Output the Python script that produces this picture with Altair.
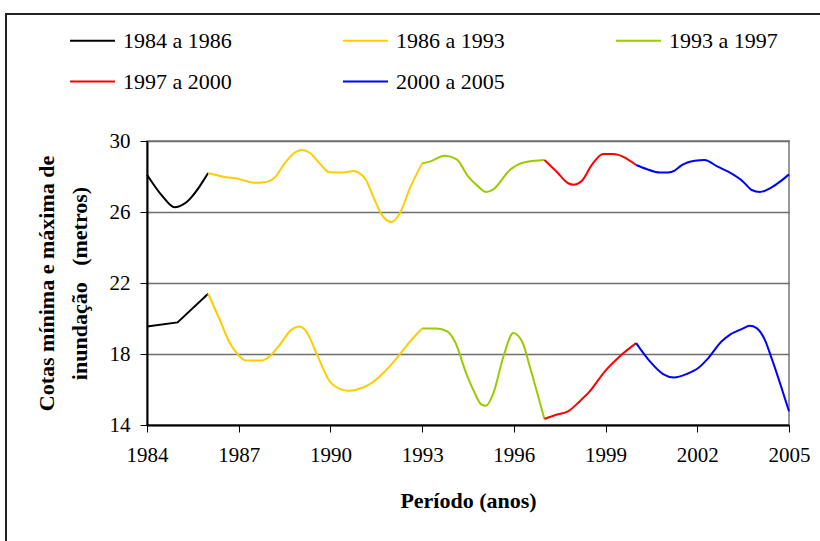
import altair as alt
import pandas as pd

FONT = "Liberation Serif"

series_names = ["1984 a 1986", "1986 a 1993", "1993 a 1997", "1997 a 2000", "2000 a 2005"]
series_colors = ["#000000", "#FFCC00", "#99CC00", "#FF0000", "#0000FF"]

# Maximum (upper) curves
max_years_1 = [1984.0, 1984.5, 1984.9, 1985.25, 1986.0]
max_vals_1 = [28.1, 26.9, 26.27, 26.5, 28.2]
max_years_2 = [1986.0, 1986.5, 1987.0, 1987.5, 1987.85, 1988.18, 1988.5, 1988.78, 1989.08, 1989.32,
               1989.65, 1989.96, 1990.42, 1990.75, 1991.02, 1991.13, 1991.4, 1991.68, 1992.0, 1992.27,
               1992.6, 1993.0]
max_vals_2 = [28.2, 27.99, 27.86, 27.65, 27.68, 27.94, 28.74, 29.27, 29.49, 29.34,
              28.74, 28.24, 28.22, 28.31, 28.09, 27.9, 26.87, 25.84, 25.44, 25.93,
              27.34, 28.74]
max_years_3 = [1993.0, 1993.25, 1993.74, 1994.13, 1994.51, 1994.84, 1995.09, 1995.33, 1995.87, 1996.3, 1997.0]
max_vals_3 = [28.74, 28.84, 29.17, 28.97, 27.99, 27.43, 27.13, 27.28, 28.37, 28.78, 28.93]
max_years_4 = [1997.0, 1997.4, 1997.78, 1997.95, 1998.22, 1998.55, 1998.92, 1999.23, 2000.0]
max_vals_4 = [28.93, 28.27, 27.62, 27.54, 27.75, 28.65, 29.27, 29.27, 28.65]
max_years_5 = [2000.0, 2000.34, 2000.78, 2001.05, 2001.26, 2001.48, 2001.92, 2002.24, 2002.63, 2003.01,
               2003.5, 2003.78, 2004.05, 2004.43, 2005.0]
max_vals_5 = [28.65, 28.42, 28.22, 28.22, 28.33, 28.63, 28.89, 28.93, 28.59, 28.27,
              27.71, 27.24, 27.13, 27.39, 28.12]

# Minimum (lower) curves
min_years_1 = [1984.0, 1985.0, 1986.0]
min_vals_1 = [19.55, 19.78, 21.4]
min_years_2 = [1986.0, 1986.38, 1986.71, 1986.98, 1987.23, 1987.78, 1988.01, 1988.34, 1988.72, 1988.97,
               1989.21, 1989.54, 1989.98, 1990.3, 1990.58, 1990.85, 1991.29, 1991.73, 1992.17, 1992.6, 1993.0]
min_vals_2 = [21.4, 19.93, 18.62, 17.96, 17.64, 17.64, 17.86, 18.52, 19.36, 19.55,
              19.27, 18.05, 16.45, 16.04, 15.93, 15.99, 16.3, 16.93, 17.77, 18.7, 19.44]
min_years_3 = [1993.0, 1993.47, 1993.82, 1994.07, 1994.46, 1994.67, 1994.95, 1995.09, 1995.33, 1995.66,
               1995.98, 1996.29, 1996.52, 1997.0]
min_vals_3 = [19.44, 19.44, 19.27, 18.7, 16.83, 15.99, 15.14, 15.09, 15.8, 17.86,
              19.18, 18.62, 17.3, 14.34]
min_years_4 = [1997.0, 1997.39, 1997.77, 1998.15, 1998.48, 1998.97, 1999.46, 2000.0]
min_vals_4 = [14.34, 14.58, 14.77, 15.33, 15.89, 17.01, 17.86, 18.61]
min_years_5 = [2000.0, 2000.45, 2000.88, 2001.24, 2001.65, 2002.03, 2002.36, 2002.79, 2003.06, 2003.45,
               2003.72, 2003.94, 2004.21, 2004.43, 2005.0]
min_vals_5 = [18.61, 17.58, 16.87, 16.68, 16.87, 17.21, 17.77, 18.7, 19.08, 19.4,
              19.59, 19.46, 18.8, 17.77, 14.77]

x_ticks = [1984, 1987, 1990, 1993, 1996, 1999, 2002, 2005]
y_ticks = [14, 18, 22, 26, 30]

max_sets = [(max_years_1, max_vals_1), (max_years_2, max_vals_2), (max_years_3, max_vals_3),
            (max_years_4, max_vals_4), (max_years_5, max_vals_5)]
min_sets = [(min_years_1, min_vals_1), (min_years_2, min_vals_2), (min_years_3, min_vals_3),
            (min_years_4, min_vals_4), (min_years_5, min_vals_5)]

rows = []
for name, (ys, vs) in zip(series_names, max_sets):
    for y, v in zip(ys, vs):
        rows.append({"ano": y, "cota": v, "serie": name, "curva": "max"})
for name, (ys, vs) in zip(series_names, min_sets):
    for y, v in zip(ys, vs):
        rows.append({"ano": y, "cota": v, "serie": name, "curva": "min"})
df = pd.DataFrame(rows)

x_enc = alt.X("ano:Q",
              scale=alt.Scale(domain=[1984, 2005], nice=False, zero=False),
              axis=alt.Axis(values=x_ticks, format="d", grid=False, title="Período (anos)",
                            tickSize=7, tickColor="black", domainColor="black", domainWidth=2,
                            labelFlush=False, labelPadding=12, titlePadding=25))
y_enc = alt.Y("cota:Q",
              scale=alt.Scale(domain=[14, 30], nice=False, zero=False),
              axis=alt.Axis(values=y_ticks, grid=True, gridColor="#6e6e6e", gridWidth=1.5,
                            title=["Cotas mínima e máxima de", "inundação\u00a0\u00a0\u00a0(metros)"],
                            titleLineHeight=33, tickSize=7, tickColor="black",
                            domainColor="black", domainWidth=2, labelPadding=10, titlePadding=18))
color_enc = alt.Color("serie:N",
                      scale=alt.Scale(domain=series_names, range=series_colors),
                      legend=alt.Legend(orient="none", legendX=-78, legendY=-124, columns=3,
                                        direction="horizontal",
                                        title=None, symbolType="stroke", symbolSize=2025,
                                        symbolStrokeWidth=2, labelFontSize=22, labelFont=FONT,
                                        labelColor="black", labelOffset=7, columnPadding=107,
                                        rowPadding=6, labelLimit=300))

base = alt.Chart(df).encode(x=x_enc, y=y_enc, color=color_enc, detail="curva:N", order="ano:Q")

is_straight = (alt.datum.serie == series_names[0]) & (alt.datum.curva == "min")
straight = base.transform_filter(is_straight).mark_line(interpolate="linear", strokeWidth=2)
smooth = base.transform_filter(~is_straight).mark_line(interpolate="monotone", strokeWidth=2)

frame = alt.Chart(pd.DataFrame({"k": [0]})).mark_rect(
    fillOpacity=0, stroke="#222222", strokeWidth=2
).encode(x=alt.value(-141), x2=alt.value(800), y=alt.value(-127), y2=alt.value(500))

chart = alt.layer(straight, smooth, frame).properties(
    width=642, height=284,
    background="white",
    autosize=alt.AutoSizeParams(type="none"),
    padding={"left": 147, "top": 141, "right": 31, "bottom": 116},
).configure_view(
    stroke="#999999", strokeWidth=2
).configure_axis(
    labelFont=FONT, labelFontSize=21, labelColor="black",
    titleFont=FONT, titleFontSize=22, titleFontWeight="bold", titleColor="black",
)

chart.save("out.html", embed_options={"renderer": "svg", "actions": False})
